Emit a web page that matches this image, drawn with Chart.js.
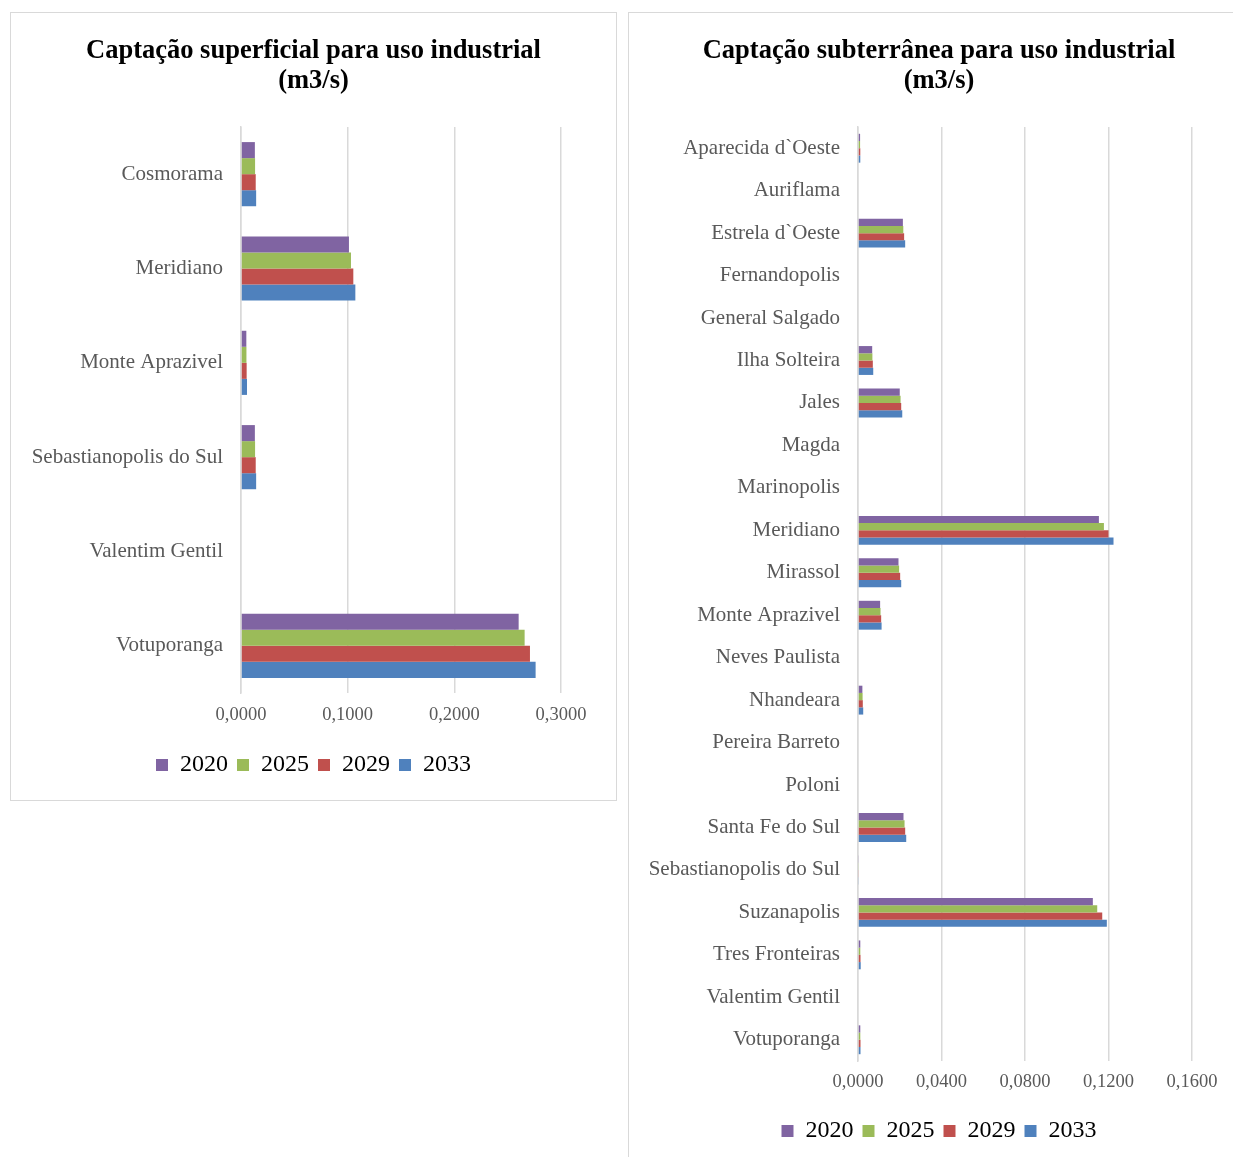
<!DOCTYPE html>
<html>
<head>
<meta charset="utf-8">
<script src="https://cdn.jsdelivr.net/npm/chart.js@4.4.1/dist/chart.umd.min.js"></script>
<style>
  html, body { margin: 0; padding: 0; background: #fff; overflow: hidden; }
  body { width: 1233px; height: 1157px; position: relative; }
  .box { position: absolute; border: 1.5px solid #d9d9d9; background: #fff; }
  #boxLeft { left: 10px; top: 12px; width: 605px; height: 787px; }
  #boxRight { left: 628px; top: 12px; width: 640px; height: 1200px; }
  canvas { position: absolute; }
</style>
</head>
<body>
<div class="box" id="boxLeft"><canvas id="surface"></canvas></div>
<div class="box" id="boxRight"><canvas id="ground"></canvas></div>
<script>
var years = ['2020', '2025', '2029', '2033'];
var yearColors = ['#8064A2', '#9BBB59', '#C0504D', '#4F81BD'];

// captação superficial (m3/s)
var surfaceCities = ['Cosmorama', 'Meridiano', 'Monte Aprazivel', 'Sebastianopolis do Sul', 'Valentim Gentil', 'Votuporanga'];
var surface2020 = [0.0130, 0.1012, 0.0050, 0.0130, 0, 0.2603];
var surface2025 = [0.0132, 0.1031, 0.0051, 0.0132, 0, 0.2659];
var surface2029 = [0.0138, 0.1053, 0.0053, 0.0138, 0, 0.2709];
var surface2033 = [0.0142, 0.1072, 0.0056, 0.0142, 0, 0.2762];
var surfaceTicks = [0, 0.1, 0.2, 0.3];

// captação subterrânea (m3/s)
var groundCities = ['Aparecida d`Oeste', 'Auriflama', 'Estrela d`Oeste', 'Fernandopolis', 'General Salgado',
  'Ilha Solteira', 'Jales', 'Magda', 'Marinopolis', 'Meridiano', 'Mirassol', 'Monte Aprazivel',
  'Neves Paulista', 'Nhandeara', 'Pereira Barreto', 'Poloni', 'Santa Fe do Sul', 'Sebastianopolis do Sul',
  'Suzanapolis', 'Tres Fronteiras', 'Valentim Gentil', 'Votuporanga'];
var ground2020 = [0.0010, 0, 0.0215, 0, 0, 0.0068, 0.0200, 0, 0, 0.1154, 0.0194, 0.0106, 0, 0.0021, 0, 0, 0.0218, 0.0003, 0.1125, 0.0011, 0, 0.0011];
var ground2025 = [0.0010, 0, 0.0217, 0, 0, 0.0069, 0.0204, 0, 0, 0.1178, 0.0197, 0.0108, 0, 0.0022, 0, 0, 0.0223, 0.0003, 0.1146, 0.0011, 0, 0.0011];
var ground2029 = [0.0011, 0, 0.0221, 0, 0, 0.0071, 0.0207, 0, 0, 0.1200, 0.0202, 0.0111, 0, 0.0023, 0, 0, 0.0226, 0.0003, 0.1170, 0.0012, 0, 0.0012];
var ground2033 = [0.0011, 0, 0.0226, 0, 0, 0.0073, 0.0212, 0, 0, 0.1224, 0.0207, 0.0113, 0, 0.0025, 0, 0, 0.0231, 0.0003, 0.1192, 0.0013, 0, 0.0012];
var groundTicks = [0, 0.04, 0.08, 0.12, 0.16];

var serif = '"Liberation Serif", "Times New Roman", serif';

function fmt(v) {
    return v.toFixed(4).replace('.', ',');
}

function makeChart(canvasId, width, height, title, cities, series, ticks, opts) {
    var canvas = document.getElementById(canvasId);
    canvas.style.width = width + 'px';
    canvas.style.height = height + 'px';
    canvas.width = width;
    canvas.height = height;

    var datasets = [];
    for (var i = 0; i < years.length; i++) {
        datasets.push({
            label: years[i],
            data: series[i],
            backgroundColor: yearColors[i],
            borderWidth: 0,
            barPercentage: 1,
            categoryPercentage: 0.68
        });
    }

    return new Chart(canvas.getContext('2d'), {
        type: 'bar',
        data: { labels: cities, datasets: datasets },
        options: {
            indexAxis: 'y',
            responsive: false,
            animation: false,
            devicePixelRatio: 1,
            layout: { padding: { bottom: opts.bottomPad } },
            plugins: {
                title: {
                    display: true,
                    text: title,
                    color: '#000',
                    font: { family: serif, size: 26.5, weight: 'bold', lineHeight: '30px' },
                    padding: { top: 23, bottom: 31 }
                },
                legend: {
                    position: 'bottom',
                    labels: {
                        color: '#000',
                        font: { family: serif, size: 24 },
                        boxWidth: 12,
                        boxHeight: 12,
                        padding: 9
                    }
                },
                tooltip: { enabled: false }
            },
            scales: {
                x: {
                    min: 0,
                    max: ticks[ticks.length - 1],
                    afterBuildTicks: function(scale) {
                        scale.ticks = ticks.map(function(v) { return { value: v }; });
                    },
                    afterFit: function(scale) {
                        scale.height = opts.xHeight;
                        scale.paddingRight = opts.rightGap;
                        scale.paddingLeft = 0;
                    },
                    grid: { color: '#d9d9d9', lineWidth: 1.5, drawTicks: false },
                    border: { display: false },
                    ticks: {
                        color: '#595959',
                        font: { family: serif, size: 18.5 },
                        padding: opts.tickPad,
                        callback: function(v) { return fmt(v); }
                    }
                },
                y: {
                    afterFit: function(scale) {
                        scale.width = opts.yWidth;
                        scale.paddingTop = 0;
                        scale.paddingBottom = 0;
                    },
                    grid: { display: false, drawTicks: false },
                    border: { display: true, color: '#d9d9d9', width: 1.5 },
                    ticks: {
                        color: '#595959',
                        font: { family: serif, size: 21 },
                        padding: 18,
                        autoSkip: false
                    }
                }
            }
        }
    });
}

makeChart('surface', 605, 786, ['Captação superficial para uso industrial', '(m3/s)'],
    surfaceCities, [surface2020, surface2025, surface2029, surface2033], surfaceTicks,
    { bottomPad: 12, xHeight: 51, tickPad: 11, rightGap: 55, yWidth: 230 });

makeChart('ground', 620, 1144, ['Captação subterrânea para uso industrial', '(m3/s)'],
    groundCities, [ground2020, ground2025, ground2029, ground2033], groundTicks,
    { bottomPad: 4, xHeight: 49, tickPad: 10, rightGap: 57, yWidth: 229 });
</script>
</body>
</html>
